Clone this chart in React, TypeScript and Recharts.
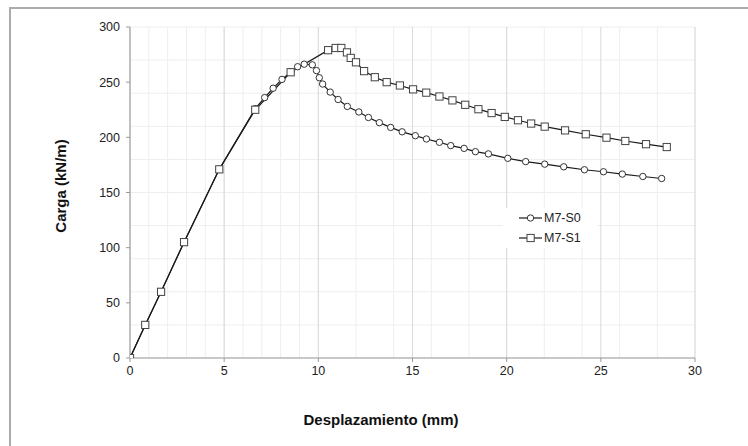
import React from "react";
import { LineChart, Line, XAxis, YAxis, CartesianGrid, Label } from "recharts";

const s0X = [0, 0.81, 1.65, 2.87, 4.74, 6.65, 7.15, 7.6, 8.07, 8.55, 8.9, 9.25, 9.68, 9.9, 10.05, 10.23, 10.63, 11.05, 11.54, 12.15, 12.66, 13.24, 13.84, 14.45, 15.15, 15.74, 16.43, 17.03, 17.74, 18.34, 19.03, 20.06, 21.01, 22.02, 23.03, 24.13, 25.14, 26.14, 27.23, 28.23];
const s0Y = [0, 30, 60, 105, 171, 226, 236, 244.5, 252.5, 259.5, 264, 266.3, 265.7, 260.5, 254, 248.3, 241, 234.3, 228, 223, 218, 213.3, 209, 205, 201.5, 198.5, 195.5, 192.5, 190, 187, 185, 181, 178, 175.7, 173.3, 170.6, 168.8, 166.7, 164.5, 162.7];

const s1X = [0, 0.81, 1.65, 2.87, 4.74, 6.65, 8.53, 10.52, 10.92, 11.22, 11.52, 11.72, 12.0, 12.43, 13.0, 13.63, 14.33, 15.03, 15.73, 16.43, 17.12, 17.8, 18.5, 19.2, 19.9, 20.6, 21.3, 22.02, 23.1, 24.2, 25.3, 26.3, 27.4, 28.5];
const s1Y = [0, 30, 60, 105, 171, 225, 259, 279, 281, 281, 277, 272, 268, 260, 254.5, 250, 247, 243.5, 240.5, 237, 233.5, 229.5, 225.5, 222, 218.5, 215.5, 212.5, 209.7, 206.3, 202.8, 199.7, 196.7, 193.8, 191.2];

const seriesNames = ["M7-S0", "M7-S1"];
const xTicks = [0, 5, 10, 15, 20, 25, 30];
const yTicks = [0, 50, 100, 150, 200, 250, 300];
const xMinor = Array.from({ length: 31 }, (_, i) => i);
const yMinor = Array.from({ length: 31 }, (_, i) => i * 10);

const s0Data = s0X.map((x, i) => ({ x, y: s0Y[i] }));
const s1Data = s1X.map((x, i) => ({ x, y: s1Y[i] }));

const FONT = "'Liberation Sans', Arial, sans-serif";
const LINE = "#1a1a1a";

const CircleDot = (props: any) => {
  const { cx, cy, index } = props;
  if (cx == null || cy == null) return null;
  return <circle key={`c${index}`} cx={cx} cy={cy} r={3.2} fill="#fff" stroke="#333" strokeWidth={1} />;
};
const SquareDot = (props: any) => {
  const { cx, cy, index } = props;
  if (cx == null || cy == null) return null;
  return <rect key={`s${index}`} x={cx - 3.6} y={cy - 3.6} width={7.2} height={7.2} fill="#fff" stroke="#444" strokeWidth={1} />;
};

const LegendBox = () => (
  <div style={{ position: "absolute", left: 503, top: 208, background: "#fff", width: 94, height: 40 }}>
    <svg width={94} height={40} style={{ position: "absolute", left: 0, top: 0 }}>
      <line x1={16} y1={10} x2={39} y2={10} stroke={LINE} strokeWidth={1.2} />
      <circle cx={27.5} cy={10} r={3.2} fill="#fff" stroke="#333" strokeWidth={1} />
      <text x={41} y={14.4} fontFamily={FONT} fontSize={12.5} fill="#222">{seriesNames[0]}</text>
      <line x1={16} y1={30} x2={39} y2={30} stroke={LINE} strokeWidth={1.2} />
      <rect x={24} y={26.4} width={7.2} height={7.2} fill="#fff" stroke="#444" strokeWidth={1} />
      <text x={41} y={34.4} fontFamily={FONT} fontSize={12.5} fill="#222">{seriesNames[1]}</text>
    </svg>
  </div>
);

export default function App() {
  return (
    <div style={{ position: "absolute", left: 0, top: 0, width: 748, height: 446, overflow: "hidden", background: "#fff" }}>
      <div style={{ position: "absolute", left: 9, top: 7, width: 900, height: 900, borderLeft: "2px solid #ababab", borderTop: "2px solid #ababab" }} />
      <div style={{ position: "absolute", left: 0, top: 0 }}>
        <LineChart width={748} height={446} margin={{ top: 27, right: 53, bottom: 58, left: 70 }}>
          <CartesianGrid stroke="#eeeeee" strokeWidth={1} verticalValues={xMinor} horizontalValues={yMinor} />
          <CartesianGrid stroke="#d9d9d9" strokeWidth={1} verticalValues={xTicks} horizontal={false} />
          <XAxis
            type="number"
            dataKey="x"
            domain={[0, 30]}
            ticks={xTicks}
            allowDataOverflow
            stroke="#999"
            tickSize={4}
            tickMargin={4}
            height={30}
            tick={{ fill: "#222", fontSize: 12.5, fontFamily: FONT }}
          >
            <Label
              content={() => (
                <text x={381} y={424.5} textAnchor="middle" fontFamily={FONT} fontSize={15} fontWeight="bold" fill="#111">
                  Desplazamiento (mm)
                </text>
              )}
            />
          </XAxis>
          <YAxis
            type="number"
            dataKey="y"
            domain={[0, 300]}
            ticks={yTicks}
            allowDataOverflow
            stroke="#999"
            tickSize={4}
            tickMargin={6}
            width={60}
            tick={{ fill: "#222", fontSize: 12.5, fontFamily: FONT }}
          >
            <Label
              content={() => (
                <text x={0} y={0} transform="translate(66,186) rotate(-90)" textAnchor="middle" fontFamily={FONT} fontSize={15} fontWeight="bold" fill="#111">
                  Carga (kN/m)
                </text>
              )}
            />
          </YAxis>
          <Line
            data={s0Data}
            dataKey="y"
            name={seriesNames[0]}
            type="linear"
            stroke={LINE}
            strokeWidth={1.2}
            dot={CircleDot}
            activeDot={false}
            isAnimationActive={false}
          />
          <Line
            data={s1Data}
            dataKey="y"
            name={seriesNames[1]}
            type="linear"
            stroke={LINE}
            strokeWidth={1.2}
            dot={SquareDot}
            activeDot={false}
            isAnimationActive={false}
          />
        </LineChart>
      </div>
      <LegendBox />
    </div>
  );
}
